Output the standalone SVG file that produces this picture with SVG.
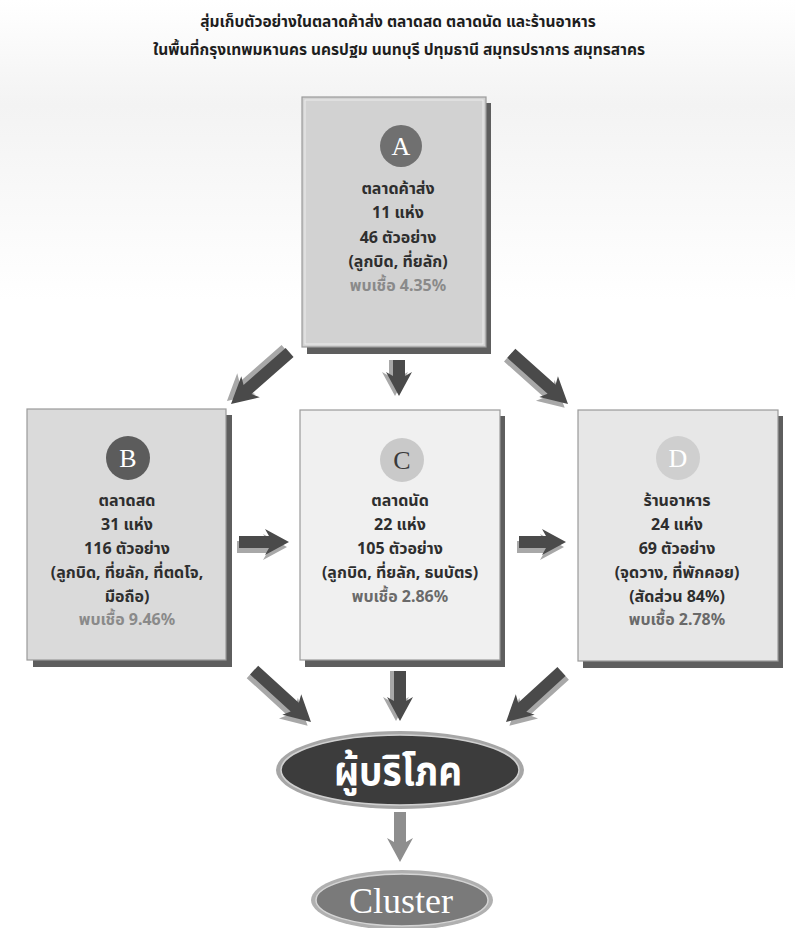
<svg xmlns="http://www.w3.org/2000/svg" width="795" height="928" viewBox="0 0 795 928">
<style>
.t{font-family:"Noto Sans","Noto Sans Thai","Liberation Sans",sans-serif;font-weight:bold;font-size:16px;text-anchor:middle;fill:#2e2e2e}
.p{fill:#8a8a8a}
.p2{fill:#6a6a6a}
.title{font-family:"Noto Sans","Noto Sans Thai","Liberation Sans",sans-serif;font-weight:bold;font-size:15.5px;text-anchor:middle;fill:#1e1e1e}
.lt{font-family:"Liberation Serif",serif;font-size:26px;text-anchor:middle}
.box{stroke:#9a9a9a;stroke-width:1.2}
.sh{fill:#5e5e5e}
.arr{fill:#4a4a4a}
.arrs{fill:#a8a8a8}
</style>
<defs>
<linearGradient id="bg" x1="0" y1="0" x2="0" y2="1">
<stop offset="0" stop-color="#ffffff"/>
<stop offset="0.35" stop-color="#f3f3f3"/>
<stop offset="1" stop-color="#ffffff"/>
</linearGradient>
</defs>
<rect x="0" y="0" width="795" height="928" fill="#ffffff"/>
<rect x="0" y="0" width="795" height="300" fill="url(#bg)"/>

<text class="title" x="398" y="27">สุ่มเก็บตัวอย่างในตลาดค้าส่ง ตลาดสด ตลาดนัด และร้านอาหาร</text>
<text class="title" x="399" y="55">ในพื้นที่กรุงเทพมหานคร นครปฐม นนทบุรี ปทุมธานี สมุทรปราการ สมุทรสาคร</text>

<g id="nodeA">
<rect class="sh" x="307" y="103" width="184" height="251"/>
<rect class="box" x="302" y="97" width="184" height="250" fill="#d2d2d2"/>
<rect x="305" y="100" width="178" height="244" fill="none" stroke="#ececec" stroke-width="1"/>
<circle cx="401" cy="146" r="21" fill="#707070"/>
<text class="lt" x="401" y="155" fill="#ffffff">A</text>
<text class="t" x="398" y="194">ตลาดค้าส่ง</text>
<text class="t" x="398" y="218">11 แห่ง</text>
<text class="t" x="398" y="243">46 ตัวอย่าง</text>
<text class="t" x="398" y="267">(ลูกบิด, ที่ยลัก)</text>
<text class="t p" x="398" y="291">พบเชื้อ 4.35%</text>
</g>

<g id="nodeB">
<rect class="sh" x="33" y="415" width="199" height="252"/>
<rect class="box" x="27" y="409" width="199" height="251" fill="#dadada"/>
<circle cx="128" cy="458" r="22" fill="#5c5c5c"/>
<text class="lt" x="128" y="467" fill="#ffffff">B</text>
<text class="t" x="127" y="506">ตลาดสด</text>
<text class="t" x="127" y="530">31 แห่ง</text>
<text class="t" x="127" y="554">116 ตัวอย่าง</text>
<text class="t" x="127" y="578">(ลูกบิด, ที่ยลัก, ที่ตดโจ,</text>
<text class="t" x="127" y="602">มือถือ)</text>
<text class="t p" x="127" y="625">พบเชื้อ 9.46%</text>
</g>

<g id="nodeC">
<rect class="sh" x="305" y="416" width="200" height="251"/>
<rect class="box" x="300" y="410" width="200" height="250" fill="#f0f0f0"/>
<circle cx="402" cy="460" r="22" fill="#c9c9c9"/>
<text class="lt" x="402" y="469" fill="#3a3a3a">C</text>
<text class="t" x="400" y="506">ตลาดนัด</text>
<text class="t" x="400" y="530">22 แห่ง</text>
<text class="t" x="400" y="554">105 ตัวอย่าง</text>
<text class="t" x="400" y="578">(ลูกบิด, ที่ยลัก, ธนบัตร)</text>
<text class="t p2" x="400" y="602">พบเชื้อ 2.86%</text>
</g>

<g id="nodeD">
<rect class="sh" x="583" y="416" width="200" height="252"/>
<rect class="box" x="578" y="410" width="200" height="251" fill="#e7e7e7"/>
<circle cx="678" cy="458" r="22" fill="#cfcfcf"/>
<text class="lt" x="678" y="467" fill="#ffffff">D</text>
<text class="t" x="677" y="506">ร้านอาหาร</text>
<text class="t" x="677" y="530">24 แห่ง</text>
<text class="t" x="677" y="554">69 ตัวอย่าง</text>
<text class="t" x="677" y="578">(จุดวาง, ที่พักคอย)</text>
<text class="t" x="677" y="602">(สัดส่วน 84%)</text>
<text class="t p2" x="677" y="625">พบเชื้อ 2.78%</text>
</g>

<g id="nodeConsumer">
<ellipse cx="400" cy="770" rx="124" ry="39" fill="#a6a6a6"/>
<ellipse cx="400" cy="770" rx="119" ry="35" fill="#3c3c3c" stroke="#d0d0d0" stroke-width="1.5"/>
<text x="398" y="785" text-anchor="middle" font-family="Noto Sans,Noto Sans Thai,Liberation Serif,serif" font-size="37" font-weight="bold" fill="#ffffff" transform="translate(0,785) scale(1,1.12) translate(0,-785)">ผู้บริโภค</text>
</g>

<g id="nodeCluster">
<ellipse cx="402" cy="900" rx="91" ry="30" fill="#b0b0b0"/>
<ellipse cx="402" cy="900" rx="86" ry="26" fill="#7a7a7a" stroke="#d4d4d4" stroke-width="1.5"/>
<text x="401" y="913" text-anchor="middle" font-family="Liberation Serif,serif" font-size="36" fill="#ffffff">Cluster</text>
</g>

<g id="connectors">
<!-- A->B -->
<g transform="translate(231,404) rotate(138.7)">
<path class="arrs" transform="translate(1,5)" d="M-78,-6 L-22,-6 L-26,-14 L0,0 L-26,14 L-22,6 L-78,6 Z"/>
<path class="arr" d="M-78,-6 L-22,-6 L-26,-14 L0,0 L-26,14 L-22,6 L-78,6 Z"/>
</g>
<!-- A->C -->
<g transform="translate(399,396) rotate(90)">
<path class="arrs" transform="translate(0,4)" d="M-36,-6 L-20,-6 L-24,-13 L0,0 L-24,13 L-20,6 L-36,6 Z"/>
<path class="arr" d="M-36,-6 L-20,-6 L-24,-13 L0,0 L-24,13 L-20,6 L-36,6 Z"/>
</g>
<!-- A->D -->
<g transform="translate(568,404) rotate(41.8)">
<path class="arrs" transform="translate(0,5)" d="M-76,-6 L-22,-6 L-26,-14 L0,0 L-26,14 L-22,6 L-76,6 Z"/>
<path class="arr" d="M-76,-6 L-22,-6 L-26,-14 L0,0 L-26,14 L-22,6 L-76,6 Z"/>
</g>
<!-- B->C -->
<g transform="translate(289,542) rotate(0)">
<path class="arrs" transform="translate(-2,5)" d="M-50,-6 L-20,-6 L-24,-13 L0,0 L-24,13 L-20,6 L-50,6 Z"/>
<path class="arr" d="M-50,-6 L-20,-6 L-24,-13 L0,0 L-24,13 L-20,6 L-50,6 Z"/>
</g>
<!-- C->D -->
<g transform="translate(566,542) rotate(0)">
<path class="arrs" transform="translate(-2,5)" d="M-47,-6 L-20,-6 L-24,-13 L0,0 L-24,13 L-20,6 L-47,6 Z"/>
<path class="arr" d="M-47,-6 L-20,-6 L-24,-13 L0,0 L-24,13 L-20,6 L-47,6 Z"/>
</g>
<!-- B->Consumer -->
<g transform="translate(311,722) rotate(42.4)">
<path class="arrs" transform="translate(0,5)" d="M-77,-6 L-22,-6 L-26,-14 L0,0 L-26,14 L-22,6 L-77,6 Z"/>
<path class="arr" d="M-77,-6 L-22,-6 L-26,-14 L0,0 L-26,14 L-22,6 L-77,6 Z"/>
</g>
<!-- C->Consumer -->
<g transform="translate(400,721) rotate(90)">
<path class="arrs" transform="translate(0,4)" d="M-50,-6 L-20,-6 L-24,-13 L0,0 L-24,13 L-20,6 L-50,6 Z"/>
<path class="arr" d="M-50,-6 L-20,-6 L-24,-13 L0,0 L-24,13 L-20,6 L-50,6 Z"/>
</g>
<!-- D->Consumer -->
<g transform="translate(506,722) rotate(137.7)">
<path class="arrs" transform="translate(0,-5)" d="M-75,-6 L-22,-6 L-26,-14 L0,0 L-26,14 L-22,6 L-75,6 Z"/>
<path class="arr" d="M-75,-6 L-22,-6 L-26,-14 L0,0 L-26,14 L-22,6 L-75,6 Z"/>
</g>
<!-- Consumer->Cluster -->
<g transform="translate(400,862) rotate(90)">
<path d="M-50,-6 L-20,-6 L-24,-13 L0,0 L-24,13 L-20,6 L-50,6 Z" fill="#8e8e8e"/>
</g>
</g>
</svg>
